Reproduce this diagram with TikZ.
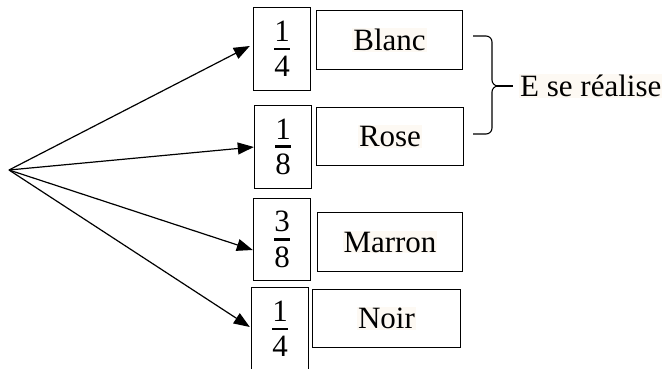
\documentclass[tikz,border=0pt]{standalone}
\usepackage{fontspec}
\setmainfont{Liberation Serif}
\usetikzlibrary{calc,arrows.meta}
\definecolor{hl}{RGB}{253,249,243}
\newcommand{\myfr}[2]{\vbox{\hbox to 16pt{\hss #1\hss}\kern6pt\hrule height 2.6pt\kern6pt\hbox to 16pt{\hss #2\hss}}}
\begin{document}
\begin{tikzpicture}[x=1pt,y=-1pt,
  frac/.style={draw,line width=1.4pt,minimum width=57pt,inner sep=0pt,font=\fontsize{31}{36}\selectfont},
  cbox/.style={draw,line width=1.4pt,inner sep=0pt,font=\fontsize{31}{36}\selectfont},
  arr/.style={line width=1.2pt,-{Triangle[length=16pt,width=12pt]}},
  txt/.style={fill=hl,inner sep=1pt,font=\fontsize{31}{36}\selectfont}]
\useasboundingbox (0,0) rectangle (669,369);
\clip (0,0) rectangle (669,369);
\coordinate (o) at (9,170);
\node[frac,minimum height=83pt] (b1) at (282,49) {\myfr{1}{4}};
\node[cbox,minimum width=146pt,minimum height=59pt] (c1) at (389.5,40) {};
\node[txt] (t1) at (c1.center) {Blanc};
\node[frac,minimum height=83pt] (b2) at (283,147) {\myfr{1}{8}};
\node[cbox,minimum width=147pt,minimum height=58pt] (c2) at (390,136.5) {};
\node[txt] (t2) at (c2.center) {Rose};
\node[frac,minimum height=82pt] (b3) at (282,239.5) {\myfr{3}{8}};
\node[cbox,minimum width=145pt,minimum height=59pt] (c3) at (390,242) {};
\node[txt] (t3) at (c3.center) {Marron};
\node[frac,minimum height=83pt] (b4) at (280,329) {\myfr{1}{4}};
\node[cbox,minimum width=148pt,minimum height=58pt] (c4) at (386.5,318.5) {};
\node[txt] (t4) at (c4.center) {Noir};
\draw[arr] (o) -- ($(b1.west)+(-3,-3)$);
\draw[arr] (o) -- (b2.west);
\draw[arr] (o) -- ($(b3.west)+(0,10.5)$);
\draw[arr] (o) -- ($(b4.west)+(-1,-2)$);
\coordinate (bt) at (473,36);
\coordinate (bm) at (513,86);
\coordinate (bb) at (473,134);
\draw[line width=1.1pt] (bt) -- ++(13,0) to[out=0,in=90] (492,42) -- (492,80)
  to[out=-90,in=180] (498,86) to[out=180,in=90] (492,92) -- (492,128)
  to[out=-90,in=0] (486,134) -- (bb);
\draw[line width=1.4pt] (497,86) -- (bm);
\node[txt,anchor=west] (e) at (519,86) {E se réalise};
\end{tikzpicture}
\end{document}
